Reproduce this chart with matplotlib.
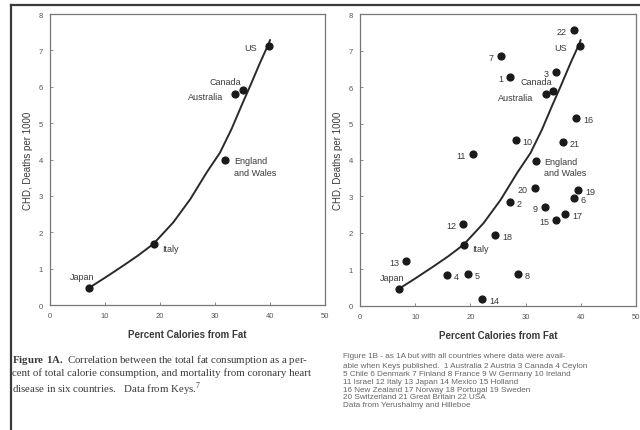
import numpy as np
import matplotlib
matplotlib.use('Agg')
import matplotlib.pyplot as plt

plt.rcParams['font.family'] = ['Liberation Sans', 'DejaVu Sans']
plt.rcParams['mathtext.fontset'] = 'custom'
plt.rcParams['mathtext.rm'] = 'Liberation Serif'
plt.rcParams['mathtext.bf'] = 'Liberation Serif:bold'

# six countries (fig 1A)
six_names = ['Japan', 'Italy', 'England\nand Wales', 'Australia', 'Canada', 'US']
six_fat = [7.1, 18.9, 31.9, 33.7, 35.0, 39.8]
six_chd = [0.47, 1.68, 3.98, 5.80, 5.90, 7.12]

# points
curve_fat = [7.3, 10.0, 13.3, 16.0, 18.8, 22.4, 25.5, 28.5, 30.9, 33.0, 34.8, 36.4, 38.2, 39.7, 40.0]
curve_chd = [0.49, 0.75, 1.08, 1.36, 1.68, 2.27, 2.91, 3.65, 4.19, 4.84, 5.48, 6.03, 6.67, 7.17, 7.29]

# the 22 numbered countries (fig 1B)
num_ids = [22, 7, 1, 3, 16, 10, 21, 11, 20, 19, 2, 6, 9, 17, 15, 12, 18, 13, 4, 5, 8, 14]
num_fat = [38.7, 25.5, 27.2, 35.5, 39.2, 28.2, 36.8, 20.5, 31.7, 39.6, 27.2, 38.7,
           33.5, 37.2, 35.5, 18.7, 24.5, 8.3, 15.7, 19.5, 28.6, 22.2]
num_chd = [7.56, 6.86, 6.28, 6.42, 5.14, 4.54, 4.48, 4.16, 3.22, 3.18, 2.84, 2.95,
           2.70, 2.52, 2.36, 2.25, 1.93, 1.24, 0.85, 0.87, 0.88, 0.19]
num_side = ['l', 'l', 'l', 'l', 'r', 'r', 'r', 'l', 'l', 'r', 'r', 'r',
            'l', 'r', 'l', 'l', 'r', 'l', 'r', 'r', 'r', 'r']

# label offsets (points) and alignment for the named countries
name_off = [(-5, 8, 'center'), (6, -3, 'left'), (6, -4.5, 'left'),
            (-9, -2, 'right'), (-1, 6.5, 'right'), (-9, -1, 'right')]

cap_a = [r'$\mathbf{Figure\ 1A.}$ Correlation between the total fat consumption as a per-',
         'cent of total calorie consumption, and mortality from coronary heart',
         r'disease in six countries.   Data from Keys.$^7$']
cap_b = ['Figure 1B - as 1A but with all countries where data were avail-',
         'able when Keys published.  1 Australia 2 Austria 3 Canada 4 Ceylon',
         '5 Chile 6 Denmark 7 Finland 8 France 9 W Germany 10 Ireland',
         '11 Israel 12 Italy 13 Japan 14 Mexico 15 Holland',
         '16 New Zealand 17 Norway 18 Portugal 19 Sweden',
         '20 Switzerland 21 Great Britain 22 USA',
         'Data from Yerushalmy and Hilleboe']

ink = '#1a1a1a'
txt = '#3a3a3a'

fig = plt.figure(figsize=(6.4, 4.31), dpi=100)
ax1 = fig.add_axes([0.078, 0.290, 0.430, 0.675])
ax2 = fig.add_axes([0.5625, 0.288, 0.431, 0.677])

for ax in (ax1, ax2):
    ax.set_xlim(0, 50)
    ax.set_ylim(0, 8)
    ax.set_xticks(range(0, 51, 10))
    ax.set_yticks(range(0, 9))
    ax.tick_params(direction='in', length=2, width=0.6, labelsize=5.5,
                   colors='#777777', labelcolor='#555555', pad=5)
    for s in ax.spines.values():
        s.set_color('#777777')
        s.set_linewidth(0.9)
    ax.set_xlabel('Percent Calories from Fat', fontsize=7, fontweight='bold',
                  color=txt, labelpad=7)
    ax.set_ylabel('CHD, Deaths per 1000', fontsize=7, color=txt, labelpad=4)
    ax.plot(curve_fat, curve_chd, color='#2a2a2a', lw=1.4,
            solid_capstyle='round', solid_joinstyle='round')
    ax.scatter(six_fat, six_chd, s=24, color=ink, zorder=3)
    for nm, x, y, (dx, dy, ha) in zip(six_names, six_fat, six_chd, name_off):
        ax.annotate(nm, (x, y), xytext=(dx, dy), textcoords='offset points',
                    ha=ha, va='center', fontsize=6.5, color=txt, linespacing=1.4)

ax2.scatter(num_fat, num_chd, s=24, color=ink, zorder=3)
for i, x, y, sd in zip(num_ids, num_fat, num_chd, num_side):
    if sd == 'l':
        ax2.annotate(str(i), (x, y), xytext=(-5, -1), textcoords='offset points',
                     ha='right', va='center', fontsize=6.5, color=txt)
    else:
        ax2.annotate(str(i), (x, y), xytext=(5, -1), textcoords='offset points',
                     ha='left', va='center', fontsize=6.5, color=txt)

# captions
fig.text(12 / 640, 1 - 353 / 431, '\n'.join(cap_a), fontsize=7.8,
         family='Liberation Serif', color=txt, va='top', linespacing=1.2)

b_rows = [357, 366, 374, 382, 390, 398, 406]
for line, yy in zip(cap_b, b_rows):
    fig.text(343 / 640, 1 - yy / 431, line, fontsize=5.9, color='#666666', va='center')

# scanned page edges
fig.add_artist(plt.Line2D([11 / 640, 11 / 640], [0, 1 - 6 / 431], transform=fig.transFigure,
                          color='#3a3a3a', lw=1.6))
fig.add_artist(plt.Line2D([11 / 640, 1], [1 - 6 / 431, 1 - 6 / 431], transform=fig.transFigure,
                          color='#3a3a3a', lw=1.6))

fig.savefig('out.png', dpi=100)
